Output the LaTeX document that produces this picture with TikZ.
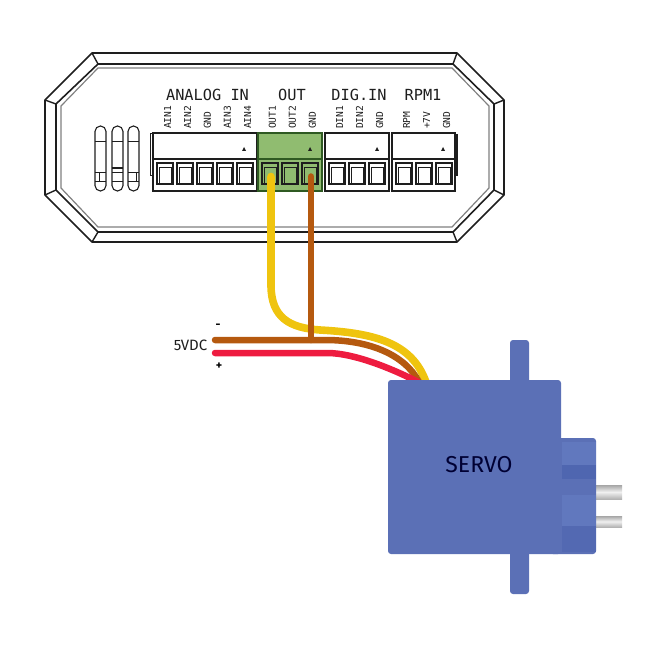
\documentclass[tikz,border=0pt]{standalone}
\usepackage{fontspec}
\setmainfont{Fira Sans}
\newfontfamily\labelfont{DejaVu Sans Mono}
\usetikzlibrary{calc}
\definecolor{wireyellow}{HTML}{EFC40F}
\definecolor{wirebrown}{HTML}{B5590F}
\definecolor{wirered}{HTML}{EE1C40}
\definecolor{servoblue}{HTML}{5B70B6}
\definecolor{servolight}{HTML}{6178BE}
\definecolor{servodark}{HTML}{4F66B0}
\definecolor{blockgreen}{HTML}{90BC70}
\definecolor{blockedge}{HTML}{2F5A22}
\definecolor{inkblack}{HTML}{1E1E1E}
\tikzset{
	block/.style={draw=inkblack, line width=1.2pt, fill=white, inner sep=0pt, outer sep=0pt, minimum width=#1, minimum height=58pt},
	term/.style={draw=inkblack, line width=1.2pt, inner sep=0pt, outer sep=0pt, minimum width=16pt, minimum height=21pt},
	head/.style={font=\labelfont\fontsize{15.3}{15.3}\selectfont, inner sep=0pt, text=inkblack},
	pin/.style={font=\labelfont\fontsize{9.6}{9.6}\selectfont, inner sep=0pt, rotate=90, anchor=west, text=inkblack},
	wire/.style={line width=#1, line cap=round},
	servopart/.style={fill=servoblue, rounded corners=3pt},
}
\begin{document}
\begin{tikzpicture}[x=1pt, y=-1pt]
	\useasboundingbox (0,0) rectangle (650,647);
	% enclosure
	\draw[inkblack, line width=1.6pt, line join=round] (92,53) -- (457,53) -- (504,100) -- (504,195) -- (457,242) -- (92,242) -- (45,195) -- (45,100) -- cycle;
	\draw[inkblack, line width=1.6pt, line join=round] (98,64) -- (453,64) -- (494,104) -- (494,190) -- (453,232) -- (98,232) -- (56,190) -- (56,104) -- cycle;
	\draw[gray, line width=1.2pt] (98,68) -- (452,68) -- (489,106) -- (489,188) -- (452,227) -- (98,227) -- (61,188) -- (61,106) -- cycle;
	\draw[inkblack, line width=1.4pt] (45,100) -- (56,104) (92,53) -- (98,64) (457,53) -- (453,64) (504,100) -- (494,104)
		(504,195) -- (494,190) (457,242) -- (453,232) (92,242) -- (98,232) (45,195) -- (56,190);
	% slots
	\foreach \x in {95,112,128} {
		\draw[inkblack, line width=1.1pt, rounded corners=5.4pt] (\x,126) rectangle ++(11,65);
		\draw[inkblack, line width=1pt] (\x,142) -- ++(11,0) (\x,173) -- ++(11,0) (\x,182) -- ++(11,0);
	}
	\draw[inkblack, line width=1pt] (99.5,173) -- (99.5,182) (136,173) -- (136,182);
	\draw[inkblack, line width=2pt] (112,168) -- (123,168);
	% side tabs
	\draw[inkblack, line width=1pt] (150.5,134) rectangle (153,176);
	\fill[inkblack] (455,134) rectangle (458,176);
	% connector blocks
	\node[block=104pt, anchor=north west] (blockain) at (153,133) {};
	\node[block=64pt, anchor=north west, fill=blockgreen, draw=blockedge] (blockout) at (258,133) {};
	\node[block=64pt, anchor=north west] (blockdig) at (325,133) {};
	\node[block=63pt, anchor=north west] (blockrpm) at (392,133) {};
	\foreach \b/\c in {blockain/inkblack, blockout/blockedge, blockdig/inkblack, blockrpm/inkblack}
		\draw[\c, line width=1.2pt] ($(\b.north west)+(0,26)$) -- ($(\b.north east)+(0,26)$);
	% terminals
	\foreach \n/\x/\l in {ain1/165/AIN1, ain2/185/AIN2, ain3/205/GND, ain4/225/AIN3, ain5/245/AIN4,
		out1/270/OUT1, out2/290/OUT2, out3/310/GND,
		dig1/337/DIN1, dig2/357/DIN2, dig3/377/GND,
		rpm1/404/RPM, rpm2/424/+7V, rpm3/444/GND} {
		\node[term] (\n) at (\x,173.5) {};
		\draw[inkblack, line width=1pt] (\x-6,184) -- (\x-6,168) -- (\x+6,168) -- (\x+6,184);
		\node[pin] (label\n) at (\x+2.5,129) {\l};
	}
	% small marks
	\foreach \x in {244,310,377,443}
		\fill[inkblack] (\x-2,151) -- (\x+2,151) -- (\x,147) -- cycle;
	% titles
	\node[head] (titleain) at (207.5,95) {ANALOG IN};
	\node[head] (titleout) at (292,95) {OUT};
	\node[head] (titledig) at (359,95) {DIG.IN};
	\node[head] (titlerpm) at (423,95) {RPM1};
	% wires
	\coordinate (minus) at (215,340);
	\coordinate (plus) at (215,353);
	\coordinate (join) at (311,340);
	\coordinate (bend) at (271,285);
	\draw[wire=7.6pt, wireyellow] ($(bend |- out1)+(0,3)$) -- (bend) .. controls (271,318) and (290,328) .. (320,330) .. controls (375,333) and (412,343) .. (426,382);
	\draw[wire=6.5pt, wirebrown] (minus) -- (join) -- (325,340) .. controls (370,340) and (405,355) .. (419,382);
	\draw[wire=6.5pt, wirebrown] ($(join |- out3)+(0,3)$) -- (join);
	\draw[wire=6.5pt, wirered] (plus) -- (327,353) .. controls (355,353) and (395,370) .. (418,382);
	\node[font=\fontsize{15}{15}\selectfont, inner sep=0pt, text=inkblack] (vdc) at (190.5,345) {5VDC};
	\node[font=\bfseries\fontsize{12}{12}\selectfont, inner sep=0pt] (minuslabel) at (218,326) {-};
	\node[font=\bfseries\fontsize{12}{12}\selectfont, inner sep=0pt] (pluslabel) at (219,366) {+};
	% servo
	\foreach \y/\h in {485/14,516/11}
		\shade[top color=black!35, bottom color=black!30, middle color=black!6] (596,\y) rectangle ++(26,\h);
	\fill[servopart] (510,340) rectangle (529,594);
	\fill[servopart] (550,438) rectangle (596,554);
	\node[fill=servoblue, rounded corners=3pt, inner sep=0pt, outer sep=0pt, minimum width=173pt, minimum height=174pt] (servo) at (474.5,467) {};
	\fill[servolight] (562,442) rectangle (596,465);
	\fill[servodark] (562,465) rectangle (596,479);
	\fill[servolight] (562,495) rectangle (596,526);
	\fill[servodark!70!servoblue] (562,526) rectangle (596,552);
	\node[font=\fontsize{23}{23}\selectfont, text=black!80!blue, inner sep=0pt] (servolabel) at (479,465) {SERVO};
\end{tikzpicture}
\end{document}
